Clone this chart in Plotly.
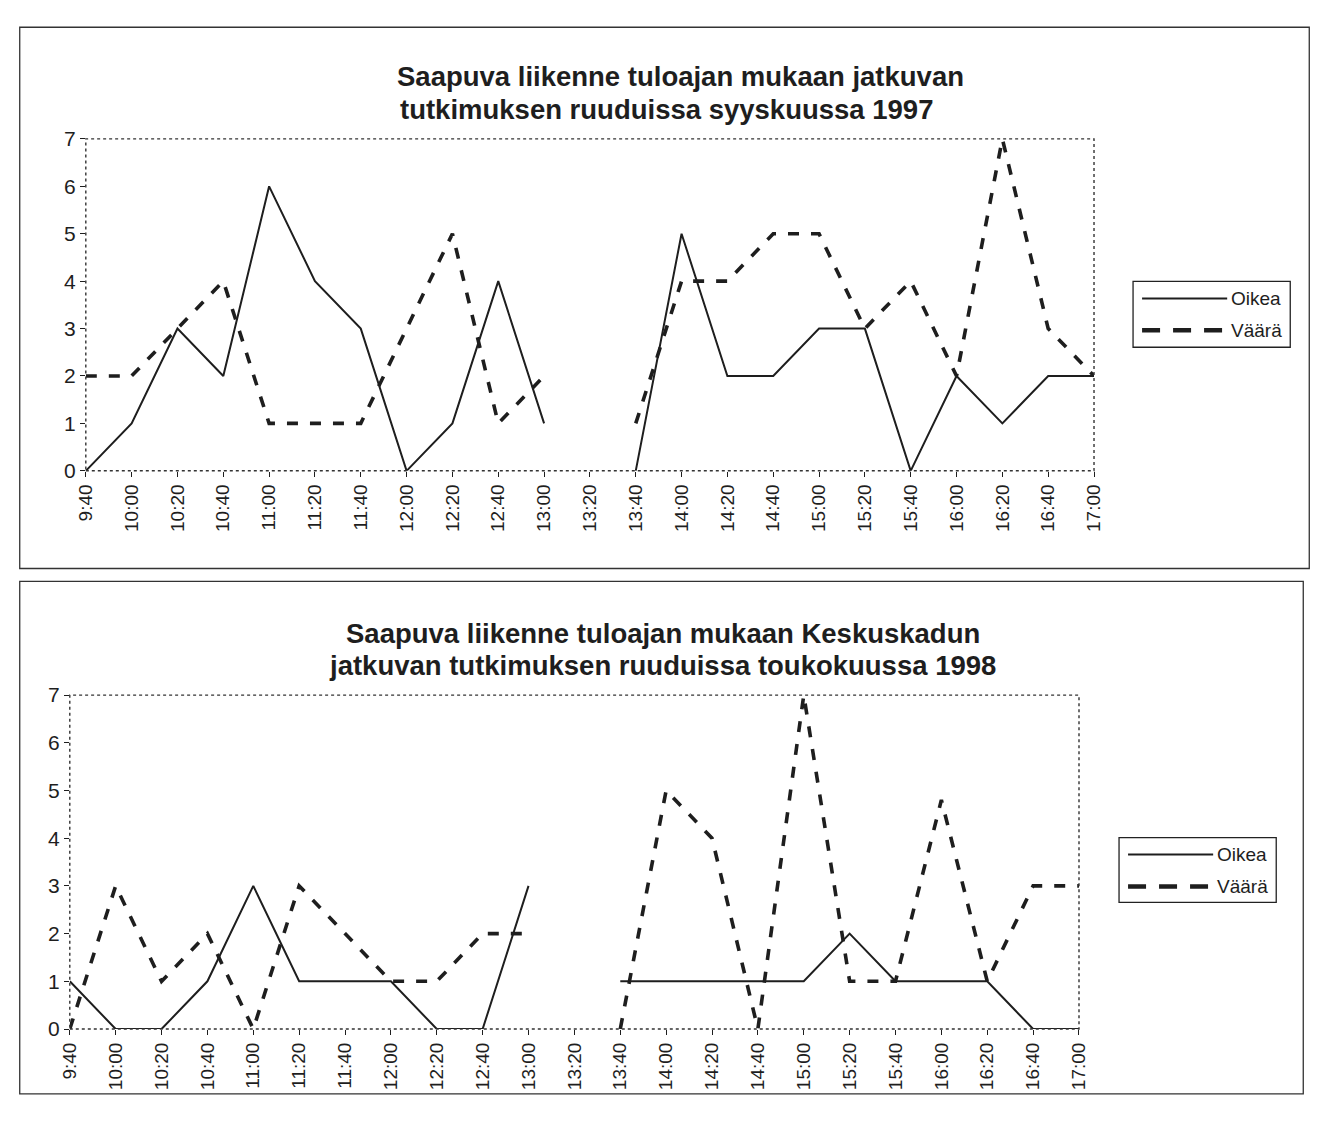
import plotly.graph_objects as go

# Arrival times (20-minute slots)
times = ["9:40", "10:00", "10:20", "10:40", "11:00", "11:20", "11:40", "12:00",
         "12:20", "12:40", "13:00", "13:20", "13:40", "14:00", "14:20", "14:40",
         "15:00", "15:20", "15:40", "16:00", "16:20", "16:40", "17:00"]

# September 1997 survey
oikea_1997 = [0, 1, 3, 2, 6, 4, 3, 0, 1, 4, 1, None, 0, 5, 2, 2, 3, 3, 0, 2, 1, 2, 2]
vaara_1997 = [2, 2, 3, 4, 1, 1, 1, 3, 5, 1, 2, None, 1, 4, 4, 5, 5, 3, 4, 2, 7, 3, 2]

# May 1998 survey (Keskuskatu)
oikea_1998 = [1, 0, 0, 1, 3, 1, 1, 1, 0, 0, 3, None, 1, 1, 1, 1, 1, 2, 1, 1, 1, 0, 0]
vaara_1998 = [0, 3, 1, 2, 0, 3, 2, 1, 1, 2, 2, None, 0, 5, 4, 0, 7, 1, 1, 4.8, 1, 3, 3]

y_ticks = [0, 1, 2, 3, 4, 5, 6, 7]

title_1997 = ["Saapuva liikenne tuloajan mukaan jatkuvan",
              "tutkimuksen ruuduissa syyskuussa 1997"]
title_1998 = ["Saapuva liikenne tuloajan mukaan Keskuskadun",
              "jatkuvan tutkimuksen ruuduissa toukokuussa 1998"]

W, H = 1327, 1139
# layout is laid out in page pixels, spread slightly outward from the page centre
SPREAD = 1 / 0.983
CX, CY = W / 2, H / 2
FONT = "Liberation Sans, Arial, Helvetica, sans-serif"
INK = "#1e1e1e"
DASH = "11px,12px"


def px(x):
    return (CX + (x - CX) * SPREAD) / W


def py(y):
    return 1 - (CY + (y - CY) * SPREAD) / H


fig = go.Figure()

panels = [
    dict(xa="x", ya="y", oikea=oikea_1997, vaara=vaara_1997, title=title_1997,
         box=(20, 25, 1308, 568), plot=(86, 137, 1093, 470),
         title_pos=((680, 74), (666, 107)),
         legend=(1132, 280, 1289, 346)),
    dict(xa="x2", ya="y2", oikea=oikea_1998, vaara=vaara_1998, title=title_1998,
         box=(20, 581, 1302, 1095), plot=(70, 695, 1078, 1030),
         title_pos=((663, 633), (662, 665)),
         legend=(1118, 838, 1275, 903)),
]

shapes = []
annotations = []

for i, p in enumerate(panels):
    fig.add_trace(go.Scatter(
        x=times, y=p["vaara"], mode="lines", name="Väärä",
        line=dict(color=INK, width=3.6, dash=DASH),
        connectgaps=False, showlegend=False,
        xaxis=p["xa"], yaxis=p["ya"]))
    fig.add_trace(go.Scatter(
        x=times, y=p["oikea"], mode="lines", name="Oikea",
        line=dict(color=INK, width=2),
        connectgaps=False, showlegend=False,
        xaxis=p["xa"], yaxis=p["ya"]))

    x0, y0, x1, y1 = p["plot"]
    suffix = "" if i == 0 else str(i + 1)
    fig.update_layout(**{
        "xaxis" + suffix: dict(
            type="category", categoryorder="array", categoryarray=times,
            range=[0, len(times) - 1], domain=[px(x0), px(x1)],
            anchor="y" + suffix, tickangle=-90, dtick=1,
            ticks="outside", ticklen=5, tickcolor=INK, tickwidth=1,
            showgrid=False, zeroline=False, showline=False,
            tickfont=dict(family=FONT, size=19, color=INK)),
        "yaxis" + suffix: dict(
            range=[0, 7], domain=[py(y1), py(y0)], anchor="x" + suffix,
            tickvals=y_ticks, ticks="outside", ticklen=5, tickcolor=INK,
            tickwidth=1, showgrid=False, zeroline=False, showline=False,
            tickfont=dict(family=FONT, size=21, color=INK)),
    })

    # chart frame
    bx0, by0, bx1, by1 = p["box"]
    shapes.append(dict(type="rect", xref="paper", yref="paper",
                       x0=px(bx0), y0=py(by1), x1=px(bx1), y1=py(by0),
                       line=dict(color="#333", width=1.3)))
    # plot-area border
    shapes.append(dict(type="rect", xref="paper", yref="paper",
                       x0=px(x0), y0=py(y1), x1=px(x1), y1=py(y0),
                       line=dict(color="#333", width=1.4, dash="dot")))
    # two-line title
    for line_text, (tx, ty) in zip(p["title"], p["title_pos"]):
        annotations.append(dict(text="<b>" + line_text + "</b>",
                                xref="paper", yref="paper", x=px(tx), y=py(ty),
                                xanchor="center", yanchor="middle", showarrow=False,
                                font=dict(family=FONT, size=27.5, color=INK)))
    # legend box
    lx0, ly0, lx1, ly1 = p["legend"]
    shapes.append(dict(type="rect", xref="paper", yref="paper",
                       x0=px(lx0), y0=py(ly1), x1=px(lx1), y1=py(ly0),
                       line=dict(color="#222", width=1.3), fillcolor="white"))
    row1 = ly0 + 17
    row2 = ly0 + 49
    shapes.append(dict(type="line", xref="paper", yref="paper",
                       x0=px(lx0 + 9), x1=px(lx0 + 94), y0=py(row1), y1=py(row1),
                       line=dict(color=INK, width=2)))
    shapes.append(dict(type="line", xref="paper", yref="paper",
                       x0=px(lx0 + 9), x1=px(lx0 + 94), y0=py(row2), y1=py(row2),
                       line=dict(color=INK, width=4.5, dash="18px,13px")))
    for label, ry in (("Oikea", row1), ("Väärä", row2)):
        annotations.append(dict(text=label, xref="paper", yref="paper",
                                x=px(lx0 + 96), y=py(ry), xanchor="left",
                                yanchor="middle", showarrow=False,
                                font=dict(family=FONT, size=19, color=INK)))

fig.update_layout(
    width=W, height=H,
    margin=dict(l=0, r=0, t=0, b=0),
    paper_bgcolor="white", plot_bgcolor="white",
    shapes=shapes, annotations=annotations,
    showlegend=False,
)

fig.write_html("out.html")
